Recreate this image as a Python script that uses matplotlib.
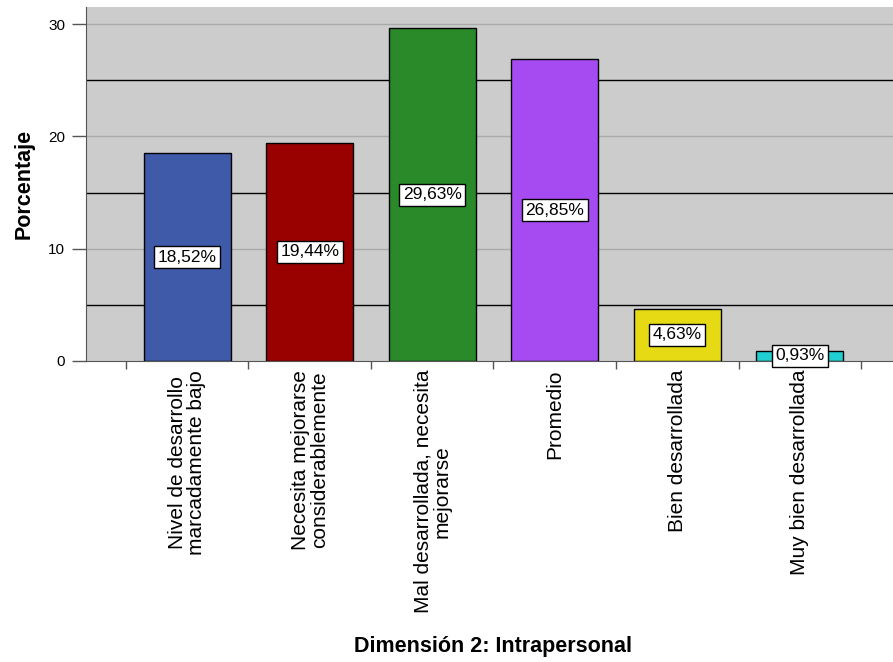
import numpy as np
import matplotlib.pyplot as plt

plt.rcParams['font.family'] = ['Liberation Sans', 'DejaVu Sans']

# Frecuencias por nivel de la dimensión intrapersonal
categorias = ['Nivel de desarrollo\nmarcadamente bajo',
              'Necesita mejorarse\nconsiderablemente',
              'Mal desarrollada, necesita\nmejorarse',
              'Promedio',
              'Bien desarrollada',
              'Muy bien desarrollada']
porcentajes = [18.52, 19.44, 29.63, 26.85, 4.63, 0.93]
colores = ['#3F5AA8', '#990000', '#2A8A2A', '#A64BF2', '#E6DA14', '#20CFCF']

fig = plt.figure(figsize=(8.93, 6.62), dpi=100)
ax = fig.add_axes([0.0963, 0.4547, 0.9037, 0.5343])
ax.set_facecolor('#CCCCCC')

x = np.arange(len(categorias))

# lineas de referencia: grises en ticks mayores, negras en los intermedios
for y in [10, 20, 30]:
    ax.axhline(y, color='#AAAAAA', lw=1, zorder=1)
for y in [5, 15, 25]:
    ax.axhline(y, color='black', lw=1, zorder=1)

ax.bar(x, porcentajes, width=0.71, color=colores, edgecolor='black', lw=1, zorder=2)

for xi, v in zip(x, porcentajes):
    ax.text(xi, v / 2, f'{v:.2f}%'.replace('.', ','), ha='center', va='center',
            fontsize=12.5, zorder=3,
            bbox=dict(boxstyle='square,pad=0.2', fc='white', ec='black', lw=1))

ax.set_xlim(-0.825, 5.76)
ax.set_ylim(0, 31.5)
ax.set_yticks([0, 10, 20, 30])
ax.tick_params(axis='y', labelsize=11, length=10, width=1, color='#555555', pad=5)

# ticks en los limites entre categorias, etiquetas centradas en las barras
ax.set_xticks(np.arange(-0.5, 5.6, 1))
ax.set_xticklabels([])
ax.tick_params(axis='x', length=6, width=1, color='#555555')
for xi, lab in zip(x, categorias):
    ax.text(xi, -0.8, lab, rotation=90, ha='center', va='top', fontsize=15,
            multialignment='center', linespacing=1.0)

for s in ['top', 'right']:
    ax.spines[s].set_visible(False)
ax.spines['left'].set_color('#555555')
ax.spines['bottom'].set_color('#555555')

ax.set_ylabel('Porcentaje', fontsize=15.5, fontweight='bold', labelpad=10)
fig.text(0.552, 0.008, 'Dimensión 2: Intrapersonal', ha='center', va='bottom',
         fontsize=15.5, fontweight='bold')

fig.savefig('out.png', dpi=100)
